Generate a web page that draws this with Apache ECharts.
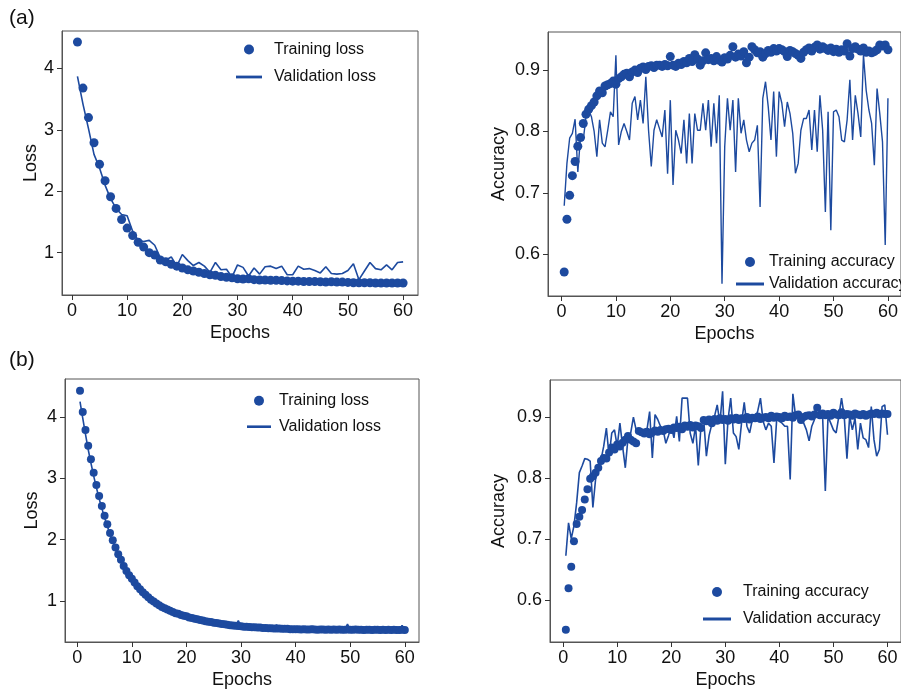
<!DOCTYPE html>
<html>
<head>
<meta charset="utf-8">
<script src="https://cdn.jsdelivr.net/npm/echarts@6/dist/echarts.min.js"></script>
<style>
  html, body { margin: 0; padding: 0; background: #fff; }
  #chart { width: 901px; height: 690px; }
</style>
</head>
<body>
<div id="chart"></div>
<script>
// x positions: (a) loss is logged once per epoch, the rest every half epoch
const epochs = Array.from({ length: 60 }, (_, i) => i + 1);
const halfEpochs = Array.from({ length: 120 }, (_, i) => (i + 1) / 2);

const xTicks = [0, 10, 20, 30, 40, 50, 60];
const lossTicks = [1, 2, 3, 4];
const accTicks = [0.6, 0.7, 0.8, 0.9];

// (a) loss, epochs 1..60
const trainLossA = [
  4.43, 3.68, 3.20, 2.79, 2.44, 2.17, 1.91, 1.72, 1.54, 1.40,
  1.28, 1.17, 1.09, 1.00, 0.96, 0.88, 0.85, 0.81, 0.78, 0.75,
  0.72, 0.70, 0.68, 0.66, 0.64, 0.63, 0.61, 0.60, 0.59, 0.575,
  0.57, 0.575, 0.56, 0.555, 0.555, 0.55, 0.55, 0.545, 0.54, 0.535,
  0.535, 0.53, 0.53, 0.53, 0.525, 0.52, 0.525, 0.52, 0.52, 0.515,
  0.51, 0.51, 0.51, 0.51, 0.505, 0.505, 0.505, 0.505, 0.505, 0.505
];
const valLossA = [
  3.87, 3.42, 3.02, 2.60, 2.38, 2.10, 1.88, 1.72, 1.62, 1.60,
  1.35, 1.20, 1.18, 1.20, 1.12, 0.92, 0.88, 0.93, 0.78, 0.97,
  0.87, 0.79, 0.84, 0.78, 0.68, 0.84, 0.72, 0.73, 0.60, 0.80,
  0.76, 0.62, 0.75, 0.65, 0.77, 0.78, 0.74, 0.78, 0.64, 0.64,
  0.78, 0.73, 0.74, 0.71, 0.67, 0.77, 0.66, 0.65, 0.66, 0.71,
  0.82, 0.56, 0.70, 0.84, 0.74, 0.72, 0.80, 0.72, 0.84, 0.85
];

// (a) accuracy, epochs 0.5..60
const trainAccA = [
  0.571, 0.657, 0.696, 0.728, 0.751, 0.776, 0.790, 0.813, 0.828, 0.836, 0.842, 0.848, 0.858, 0.866, 0.863, 0.874, 0.876, 0.878, 0.882, 0.877,
  0.886, 0.889, 0.893, 0.895, 0.889, 0.897, 0.900, 0.896, 0.903, 0.905, 0.901, 0.906, 0.907, 0.904, 0.908, 0.908, 0.906, 0.909, 0.907, 0.922,
  0.908, 0.906, 0.911, 0.909, 0.914, 0.912, 0.919, 0.914, 0.925, 0.918, 0.908, 0.915, 0.928, 0.917, 0.919, 0.915, 0.922, 0.916, 0.913, 0.920,
  0.918, 0.924, 0.938, 0.921, 0.926, 0.923, 0.930, 0.912, 0.921, 0.938, 0.933, 0.928, 0.930, 0.921, 0.927, 0.932, 0.929, 0.935, 0.931, 0.935,
  0.933, 0.930, 0.922, 0.932, 0.930, 0.927, 0.924, 0.919, 0.929, 0.933, 0.936, 0.931, 0.937, 0.941, 0.934, 0.938, 0.935, 0.932, 0.936, 0.930,
  0.934, 0.929, 0.933, 0.931, 0.943, 0.923, 0.935, 0.938, 0.934, 0.931, 0.936, 0.929, 0.931, 0.928, 0.930, 0.933, 0.941, 0.939, 0.941, 0.933
];
const valAccA = [
  0.679, 0.748, 0.789, 0.797, 0.820, 0.734, 0.791, 0.786, 0.824, 0.835, 0.824, 0.800, 0.759, 0.819, 0.781, 0.775, 0.802, 0.832, 0.824, 0.924,
  0.778, 0.800, 0.813, 0.800, 0.786, 0.846, 0.857, 0.819, 0.851, 0.813, 0.889, 0.802, 0.743, 0.802, 0.819, 0.805, 0.791, 0.835, 0.731, 0.851,
  0.713, 0.802, 0.786, 0.764, 0.819, 0.748, 0.829, 0.748, 0.829, 0.802, 0.802, 0.846, 0.802, 0.851, 0.775, 0.846, 0.781, 0.859, 0.552, 0.775,
  0.854, 0.802, 0.851, 0.734, 0.854, 0.797, 0.819, 0.786, 0.767, 0.781, 0.786, 0.810, 0.677, 0.854, 0.881, 0.840, 0.786, 0.865, 0.759, 0.865,
  0.846, 0.808, 0.848, 0.829, 0.797, 0.732, 0.748, 0.802, 0.821, 0.821, 0.835, 0.770, 0.835, 0.767, 0.859, 0.802, 0.669, 0.832, 0.639, 0.832,
  0.835, 0.824, 0.786, 0.783, 0.819, 0.884, 0.786, 0.859, 0.829, 0.791, 0.925, 0.867, 0.835, 0.813, 0.745, 0.870, 0.829, 0.783, 0.615, 0.854
];

// (b) loss, epochs 0.5..60
const trainLossB = [
  4.43, 4.08, 3.79, 3.53, 3.31, 3.09, 2.89, 2.71, 2.55, 2.39, 2.25, 2.11, 1.99, 1.87, 1.76, 1.67, 1.57, 1.49, 1.42, 1.36,
  1.30, 1.24, 1.19, 1.14, 1.10, 1.06, 1.02, 0.99, 0.96, 0.93, 0.90, 0.88, 0.86, 0.84, 0.82, 0.80, 0.79, 0.77, 0.76, 0.75,
  0.73, 0.72, 0.71, 0.70, 0.69, 0.68, 0.67, 0.66, 0.655, 0.645, 0.64, 0.63, 0.625, 0.62, 0.61, 0.605, 0.60, 0.595, 0.59, 0.585,
  0.58, 0.58, 0.575, 0.57, 0.57, 0.565, 0.565, 0.56, 0.56, 0.555, 0.555, 0.55, 0.55, 0.55, 0.545, 0.545, 0.545, 0.54, 0.54, 0.54,
  0.54, 0.535, 0.54, 0.535, 0.535, 0.54, 0.535, 0.53, 0.535, 0.535, 0.53, 0.535, 0.53, 0.535, 0.53, 0.535, 0.53, 0.53, 0.535, 0.53,
  0.53, 0.535, 0.53, 0.53, 0.525, 0.53, 0.53, 0.525, 0.53, 0.53, 0.525, 0.53, 0.525, 0.53, 0.525, 0.53, 0.525, 0.525, 0.53, 0.525
];
const valLossB = [
  4.25, 3.98, 3.72, 3.47, 3.25, 3.04, 2.85, 2.67, 2.51, 2.36, 2.22, 2.09, 1.97, 1.85, 1.75, 1.65, 1.56, 1.48, 1.41, 1.35,
  1.29, 1.23, 1.18, 1.13, 1.09, 1.05, 1.01, 0.98, 0.95, 0.92, 0.90, 0.87, 0.85, 0.83, 0.81, 0.80, 0.78, 0.77, 0.75, 0.74,
  0.73, 0.72, 0.71, 0.70, 0.69, 0.68, 0.67, 0.66, 0.65, 0.645, 0.64, 0.63, 0.625, 0.62, 0.61, 0.605, 0.60, 0.595, 0.68, 0.585,
  0.58, 0.575, 0.575, 0.57, 0.57, 0.565, 0.56, 0.56, 0.555, 0.555, 0.55, 0.55, 0.61, 0.55, 0.545, 0.545, 0.545, 0.54, 0.54, 0.54,
  0.54, 0.535, 0.54, 0.535, 0.535, 0.585, 0.535, 0.53, 0.535, 0.535, 0.53, 0.535, 0.53, 0.535, 0.53, 0.575, 0.53, 0.53, 0.62, 0.53,
  0.53, 0.535, 0.53, 0.53, 0.525, 0.53, 0.53, 0.525, 0.53, 0.53, 0.525, 0.53, 0.525, 0.53, 0.525, 0.53, 0.525, 0.525, 0.60, 0.525
];

// (b) accuracy, epochs 0.5..60
const trainAccB = [
  0.552, 0.620, 0.655, 0.697, 0.725, 0.737, 0.748, 0.765, 0.782, 0.799, 0.803, 0.809, 0.817, 0.828, 0.833, 0.832, 0.842, 0.850, 0.847, 0.855,
  0.852, 0.858, 0.863, 0.869, 0.863, 0.860, 0.857, 0.877, 0.875, 0.873, 0.876, 0.872, 0.875, 0.878, 0.876, 0.879, 0.877, 0.880, 0.881, 0.879,
  0.883, 0.882, 0.884, 0.880, 0.886, 0.884, 0.887, 0.883, 0.886, 0.885, 0.882, 0.895, 0.893, 0.896, 0.890, 0.897, 0.894, 0.898, 0.895, 0.897,
  0.894, 0.898, 0.896, 0.899, 0.895, 0.898, 0.897, 0.900, 0.896, 0.899, 0.898, 0.901, 0.897, 0.899, 0.900, 0.898, 0.902, 0.899, 0.901, 0.900,
  0.898, 0.902, 0.900, 0.901, 0.899, 0.903, 0.904, 0.895, 0.900, 0.902, 0.903, 0.901, 0.904, 0.915, 0.903, 0.906, 0.903, 0.905, 0.902, 0.907,
  0.904, 0.903, 0.908, 0.903, 0.905, 0.904, 0.902, 0.906, 0.904, 0.903, 0.905, 0.902, 0.904, 0.906, 0.905, 0.907, 0.904, 0.906, 0.905, 0.905
];
const valAccB = [
  0.673, 0.727, 0.701, 0.722, 0.760, 0.809, 0.820, 0.832, 0.831, 0.828, 0.752, 0.798, 0.820, 0.830, 0.852, 0.882, 0.836, 0.874, 0.879, 0.852,
  0.890, 0.852, 0.817, 0.866, 0.874, 0.900, 0.879, 0.875, 0.871, 0.880, 0.879, 0.909, 0.833, 0.904, 0.896, 0.885, 0.879, 0.857, 0.870, 0.885,
  0.866, 0.901, 0.860, 0.931, 0.931, 0.931, 0.874, 0.857, 0.885, 0.821, 0.885, 0.896, 0.836, 0.870, 0.888, 0.901, 0.920, 0.890, 0.942, 0.823,
  0.896, 0.931, 0.874, 0.868, 0.847, 0.890, 0.924, 0.885, 0.874, 0.896, 0.896, 0.910, 0.931, 0.893, 0.879, 0.890, 0.885, 0.825, 0.896, 0.893,
  0.890, 0.885, 0.885, 0.798, 0.938, 0.901, 0.901, 0.893, 0.890, 0.879, 0.861, 0.885, 0.896, 0.920, 0.903, 0.901, 0.779, 0.901, 0.890, 0.879,
  0.874, 0.901, 0.931, 0.901, 0.832, 0.901, 0.879, 0.898, 0.847, 0.890, 0.866, 0.863, 0.850, 0.917, 0.863, 0.836, 0.847, 0.917, 0.920, 0.871
];

const BLUE = '#1d4a9f';
const FONT = '"Liberation Sans", Arial, sans-serif';
const LINE_ICON = 'path://M0,0H28V3H0Z';

function pairs(xs, ys) {
  return ys.map((v, i) => [xs[i], v]);
}

function xAxisFor(gi, min, max) {
  return {
    type: 'value', gridIndex: gi, min: min, max: max,
    name: 'Epochs', nameLocation: 'middle', nameGap: 29,
    nameTextStyle: { fontSize: 18, color: '#111', fontFamily: FONT },
    axisLine: { onZero: false, lineStyle: { color: '#555', width: 1 } },
    axisTick: { show: true, inside: false, length: 5, customValues: xTicks, lineStyle: { color: '#333' } },
    axisLabel: { customValues: xTicks, fontSize: 18, color: '#111', margin: 7, fontFamily: FONT },
    splitLine: { show: false }
  };
}

function yAxisFor(gi, min, max, name, ticks, gap, digits) {
  return {
    type: 'value', gridIndex: gi, min: min, max: max,
    name: name, nameLocation: 'middle', nameGap: gap, nameRotate: 90,
    nameTextStyle: { fontSize: 18, color: '#111', fontFamily: FONT },
    axisLine: { onZero: false, lineStyle: { color: '#555', width: 1 } },
    axisTick: { show: true, inside: false, length: 5, customValues: ticks, lineStyle: { color: '#333' } },
    axisLabel: {
      customValues: ticks, fontSize: 18, color: '#111', margin: 8, fontFamily: FONT,
      formatter: v => v.toFixed(digits)
    },
    splitLine: { show: false }
  };
}

function legendFor(left, top, width, gap, textPad, names) {
  return {
    orient: 'vertical', left: left, top: top, padding: 0,
    itemWidth: width, itemHeight: 10, itemGap: gap,
    selectedMode: false,
    textStyle: { fontSize: 16, color: '#111', fontFamily: FONT, padding: [0, 0, 0, textPad] },
    data: [
      { name: names[0], icon: 'circle' },
      { name: names[1], icon: LINE_ICON }
    ]
  };
}

function dots(name, gi, data, size) {
  return {
    name: name, type: 'scatter', xAxisIndex: gi, yAxisIndex: gi,
    data: data, symbolSize: size, itemStyle: { color: BLUE, opacity: 1 }
  };
}

function trace(name, gi, data, width) {
  return {
    name: name, type: 'line', xAxisIndex: gi, yAxisIndex: gi,
    data: data, showSymbol: false, symbol: 'none',
    lineStyle: { color: BLUE, width: width }, itemStyle: { color: BLUE }
  };
}

const chart = echarts.init(document.getElementById('chart'), null, { renderer: 'canvas' });
chart.setOption({
  backgroundColor: '#fff',
  animation: false,
  title: [
    { text: '(a)', left: 9, top: 8, padding: 0, textStyle: { fontSize: 21, fontWeight: 'normal', color: '#111', fontFamily: FONT } },
    { text: '(b)', left: 9, top: 350, padding: 0, textStyle: { fontSize: 21, fontWeight: 'normal', color: '#111', fontFamily: FONT } }
  ],
  grid: [
    { left: 62, top: 31, width: 356, height: 264, show: true, borderColor: '#555', borderWidth: 1, backgroundColor: 'transparent' },
    { left: 548, top: 32, width: 358, height: 264, show: true, borderColor: '#555', borderWidth: 1, backgroundColor: 'transparent' },
    { left: 65, top: 379, width: 354, height: 264, show: true, borderColor: '#555', borderWidth: 1, backgroundColor: 'transparent' },
    { left: 550, top: 380, width: 356, height: 264, show: true, borderColor: '#555', borderWidth: 1, backgroundColor: 'transparent' }
  ],
  xAxis: [
    xAxisFor(0, -1.8, 62.7),
    xAxisFor(1, -2.48, 62.4),
    xAxisFor(2, -2.25, 62.6),
    xAxisFor(3, -2.43, 62.5)
  ],
  yAxis: [
    yAxisFor(0, 0.31, 4.61, 'Loss', lossTicks, 20, 0),
    yAxisFor(1, 0.532, 0.962, 'Accuracy', accTicks, 40, 1),
    yAxisFor(2, 0.33, 4.62, 'Loss', lossTicks, 24, 0),
    yAxisFor(3, 0.532, 0.9606, 'Accuracy', accTicks, 42, 1)
  ],
  legend: [
    legendFor(236, 41.5, 26, 11.5, 7, ['Training loss', 'Validation loss']),
    legendFor(736, 254, 28, 6, 0, ['Training accuracy', 'Validation accuracy']),
    legendFor(247, 392.7, 24, 10, 3, ['Training loss', 'Validation loss']),
    legendFor(703, 584, 28, 11, 7, ['Training accuracy', 'Validation accuracy'])
  ],
  series: [
    dots('Training loss', 0, pairs(epochs, trainLossA), 9),
    trace('Validation loss', 0, pairs(epochs, valLossA), 1.6),
    dots('Training accuracy', 1, pairs(halfEpochs, trainAccA), 9),
    trace('Validation accuracy', 1, pairs(halfEpochs, valAccA), 1.4),
    dots('Training loss', 2, pairs(halfEpochs, trainLossB), 8),
    trace('Validation loss', 2, pairs(halfEpochs, valLossB), 1.6),
    dots('Training accuracy', 3, pairs(halfEpochs, trainAccB), 8),
    trace('Validation accuracy', 3, pairs(halfEpochs, valAccB), 1.6)
  ]
});
</script>
</body>
</html>
